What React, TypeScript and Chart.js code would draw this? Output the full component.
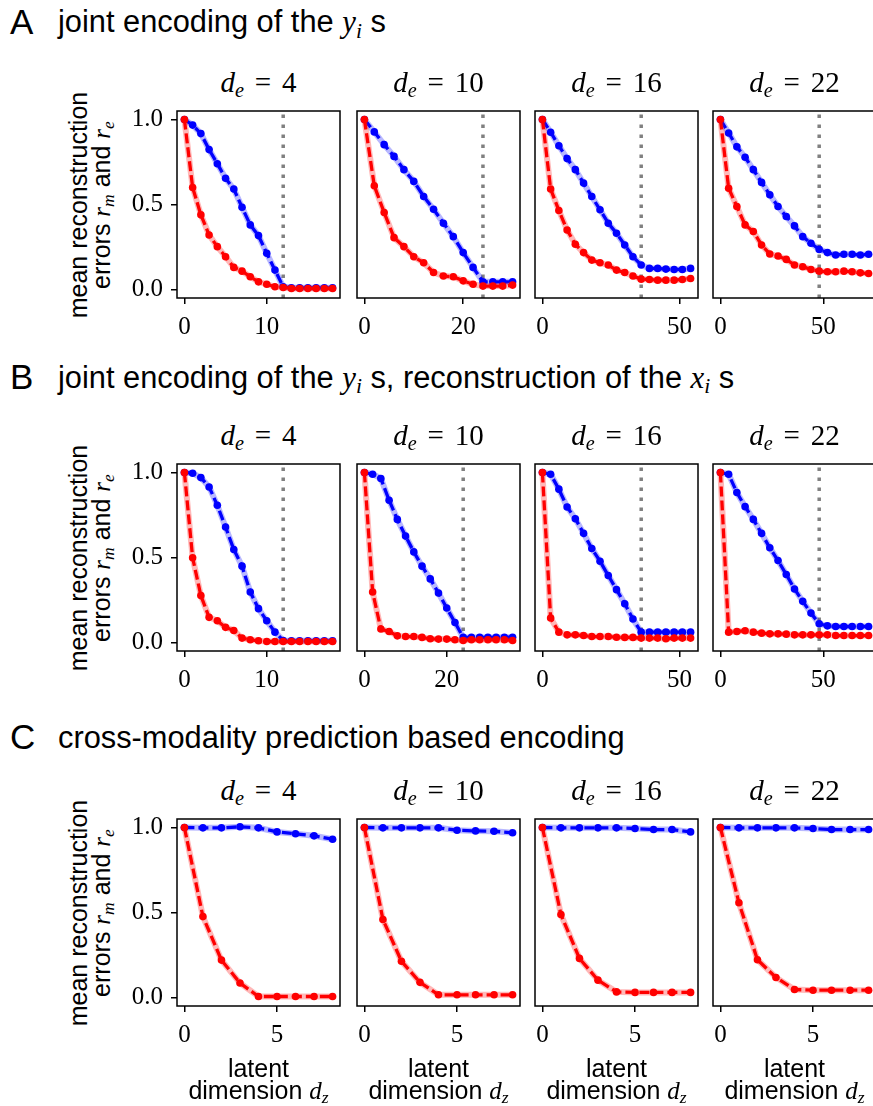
import React, { useEffect, useRef } from "react";
import { Chart, registerables } from "chart.js";

Chart.register(...registerables);

// ---------------- data ----------------
const deValues = ["4", "10", "16", "22"];
const vlineX = [12, 24, 36, 48];
const yTicks = [0, 0.5, 1.0];
const xTicksAB = [[0, 10], [0, 20], [0, 50], [0, 50]];
const xTicksC = [[0, 5], [0, 5], [0, 5], [0, 5]];

// Row A: joint encoding of the y_i s
const xA1 = [0, 1, 2, 3, 4, 5, 6, 7, 8, 9, 10, 11, 12, 13, 14, 15, 16, 17, 18];
const blueA1 = [1.0, 0.967, 0.917, 0.823, 0.74, 0.654, 0.591, 0.484, 0.38, 0.317, 0.213, 0.114, 0.016, 0.01, 0.01, 0.01, 0.01, 0.01, 0.01];
const redA1 = [1.0, 0.6, 0.439, 0.321, 0.252, 0.193, 0.13, 0.108, 0.075, 0.045, 0.031, 0.016, 0.012, 0.006, 0.006, 0.006, 0.006, 0.006, 0.006];

const xA2 = [0, 2, 4, 6, 8, 10, 12, 14, 16, 18, 20, 22, 24, 26, 28, 30];
const blueA2 = [1.0, 0.927, 0.852, 0.783, 0.705, 0.636, 0.547, 0.472, 0.39, 0.311, 0.217, 0.13, 0.045, 0.045, 0.045, 0.045];
const redA2 = [1.0, 0.61, 0.453, 0.305, 0.252, 0.193, 0.157, 0.1, 0.079, 0.075, 0.051, 0.031, 0.02, 0.02, 0.02, 0.026];

const xA3 = [0, 3, 6, 9, 12, 15, 18, 21, 24, 27, 30, 33, 36, 39, 42, 45, 48, 51, 54];
const blueA3 = [1.0, 0.925, 0.846, 0.77, 0.705, 0.626, 0.547, 0.469, 0.39, 0.331, 0.262, 0.193, 0.144, 0.124, 0.124, 0.12, 0.118, 0.118, 0.124];
const redA3 = [1.0, 0.591, 0.465, 0.35, 0.266, 0.217, 0.173, 0.157, 0.144, 0.114, 0.1, 0.079, 0.061, 0.059, 0.055, 0.055, 0.055, 0.059, 0.065];

const xA4 = [0, 4, 8, 12, 16, 20, 24, 28, 32, 36, 40, 44, 48, 52, 56, 60, 64, 68, 72];
const blueA4 = [1.0, 0.921, 0.839, 0.778, 0.705, 0.63, 0.557, 0.488, 0.429, 0.374, 0.311, 0.272, 0.236, 0.217, 0.203, 0.207, 0.207, 0.203, 0.207];
const redA4 = [1.0, 0.596, 0.488, 0.38, 0.341, 0.262, 0.209, 0.197, 0.177, 0.144, 0.134, 0.118, 0.108, 0.104, 0.104, 0.108, 0.104, 0.098, 0.094];

// Row B: joint encoding of the y_i s, reconstruction of the x_i s
const xB1 = [0, 1, 2, 3, 4, 5, 6, 7, 8, 9, 10, 11, 12, 13, 14, 15, 16, 17, 18];
const blueB1 = [1.0, 0.996, 0.97, 0.915, 0.807, 0.679, 0.547, 0.449, 0.297, 0.199, 0.128, 0.061, 0.012, 0.01, 0.01, 0.01, 0.01, 0.01, 0.01];
const redB1 = [1.0, 0.498, 0.276, 0.148, 0.128, 0.089, 0.071, 0.026, 0.016, 0.01, 0.006, 0.006, 0.006, 0.006, 0.006, 0.006, 0.006, 0.006, 0.006];

const xB2 = [0, 2, 4, 6, 8, 10, 12, 14, 16, 18, 20, 22, 24, 26, 28, 30, 32, 34, 36];
const blueB2 = [1.0, 0.99, 0.965, 0.837, 0.724, 0.626, 0.533, 0.449, 0.374, 0.291, 0.203, 0.118, 0.03, 0.03, 0.03, 0.03, 0.03, 0.031, 0.031];
const redB2 = [1.0, 0.297, 0.079, 0.065, 0.039, 0.035, 0.035, 0.03, 0.022, 0.02, 0.02, 0.016, 0.012, 0.016, 0.016, 0.016, 0.016, 0.016, 0.012];

const xB3 = [0, 3, 6, 9, 12, 15, 18, 21, 24, 27, 30, 33, 36, 39, 42, 45, 48, 51, 54];
const blueB3 = [1.0, 0.99, 0.902, 0.797, 0.728, 0.642, 0.553, 0.478, 0.394, 0.311, 0.228, 0.138, 0.061, 0.061, 0.061, 0.061, 0.061, 0.061, 0.061];
const redB3 = [1.0, 0.144, 0.061, 0.045, 0.045, 0.041, 0.035, 0.035, 0.035, 0.031, 0.03, 0.03, 0.026, 0.026, 0.026, 0.022, 0.026, 0.026, 0.026];

const xB4 = [0, 4, 8, 12, 16, 20, 24, 28, 32, 36, 40, 44, 48, 52, 56, 60, 64, 68, 72];
const blueB4 = [1.0, 0.99, 0.882, 0.799, 0.724, 0.642, 0.557, 0.482, 0.4, 0.315, 0.242, 0.173, 0.11, 0.098, 0.094, 0.094, 0.094, 0.094, 0.094];
const redB4 = [1.0, 0.061, 0.065, 0.069, 0.061, 0.055, 0.051, 0.051, 0.049, 0.045, 0.045, 0.045, 0.045, 0.045, 0.041, 0.041, 0.041, 0.041, 0.041];

// Row C: cross-modality prediction based encoding
const xC = [0, 1, 2, 3, 4, 5, 6, 7, 8];
const blueC1 = [1.0, 0.998, 0.998, 1.004, 0.998, 0.974, 0.963, 0.951, 0.931];
const redC1 = [1.0, 0.476, 0.22, 0.085, 0.006, 0.006, 0.006, 0.006, 0.006];
const blueC2 = [1.0, 0.998, 0.998, 0.998, 0.998, 0.984, 0.98, 0.978, 0.969];
const redC2 = [1.0, 0.459, 0.213, 0.089, 0.016, 0.016, 0.016, 0.016, 0.016];
const blueC3 = [1.0, 0.998, 0.998, 0.998, 0.998, 0.994, 0.988, 0.988, 0.974];
const redC3 = [1.0, 0.488, 0.23, 0.102, 0.033, 0.03, 0.03, 0.03, 0.03];
const blueC4 = [1.0, 0.998, 0.998, 0.998, 0.998, 0.994, 0.988, 0.988, 0.988];
const redC4 = [1.0, 0.557, 0.222, 0.118, 0.047, 0.043, 0.043, 0.043, 0.043];

// ---------------- layout / style ----------------
const SANS = '"Liberation Sans", Arial, Helvetica, sans-serif';
const SERIF = '"Liberation Serif", "Times New Roman", serif';
const COL_LEFT = [177, 357, 535, 713];
const ROW_TOP = [111, 464, 819];
const FRAME_W = 163;
const FRAME_H = 187;
const HEADER_BASE = [33.5, 389, 749];
const Y_MIN = -0.05;
const Y_MAX = 1.05;

type PanelCfg = {
  x: number[];
  blue: number[];
  red: number[];
  xTicks: number[];
  vline: number | null;
};

const rowsCfg: { letter: string; panels: PanelCfg[] }[] = [
  {
    letter: "A",
    panels: [
      { x: xA1, blue: blueA1, red: redA1, xTicks: xTicksAB[0], vline: vlineX[0] },
      { x: xA2, blue: blueA2, red: redA2, xTicks: xTicksAB[1], vline: vlineX[1] },
      { x: xA3, blue: blueA3, red: redA3, xTicks: xTicksAB[2], vline: vlineX[2] },
      { x: xA4, blue: blueA4, red: redA4, xTicks: xTicksAB[3], vline: vlineX[3] },
    ],
  },
  {
    letter: "B",
    panels: [
      { x: xB1, blue: blueB1, red: redB1, xTicks: xTicksAB[0], vline: vlineX[0] },
      { x: xB2, blue: blueB2, red: redB2, xTicks: xTicksAB[1], vline: vlineX[1] },
      { x: xB3, blue: blueB3, red: redB3, xTicks: xTicksAB[2], vline: vlineX[2] },
      { x: xB4, blue: blueB4, red: redB4, xTicks: xTicksAB[3], vline: vlineX[3] },
    ],
  },
  {
    letter: "C",
    panels: [
      { x: xC, blue: blueC1, red: redC1, xTicks: xTicksC[0], vline: null },
      { x: xC, blue: blueC2, red: redC2, xTicks: xTicksC[1], vline: null },
      { x: xC, blue: blueC3, red: redC3, xTicks: xTicksC[2], vline: null },
      { x: xC, blue: blueC4, red: redC4, xTicks: xTicksC[3], vline: null },
    ],
  },
];

const framePlugin = {
  id: "frameBox",
  afterDraw(chart: any) {
    const { ctx, chartArea } = chart;
    const { left, top, right, bottom } = chartArea;
    ctx.save();
    ctx.strokeStyle = "#000";
    ctx.lineWidth = 1.5;
    ctx.strokeRect(left, top, right - left, bottom - top);
    ctx.restore();
  },
};

const PAD_T = 12;
const PAD_R = 20;
const PAD_B = 52;

function Panel({ cfg, col, row }: { cfg: PanelCfg; col: number; row: number }) {
  const ref = useRef<HTMLCanvasElement | null>(null);
  const padL = col === 0 ? 80 : 20;
  const cw = padL + FRAME_W + PAD_R;
  const ch = PAD_T + FRAME_H + PAD_B;
  const left = COL_LEFT[col] - padL;
  const top = ROW_TOP[row] - PAD_T;

  useEffect(() => {
    if (!ref.current) return;
    const xMin0 = Math.min(...cfg.x);
    const xMax0 = Math.max(...cfg.x);
    const margin = (xMax0 - xMin0) * 0.05;
    const toPts = (ys: number[]) => cfg.x.map((xv, i) => ({ x: xv, y: ys[i] }));
    const datasets: any[] = [];
    if (cfg.vline !== null) {
      datasets.push({
        data: [
          { x: cfg.vline, y: Y_MIN },
          { x: cfg.vline, y: Y_MAX },
        ],
        borderColor: "#808080",
        borderWidth: 3.5,
        borderDash: [3.5, 6.5],
        borderCapStyle: "butt",
        pointRadius: 0,
        order: 6,
      });
    }
    datasets.push(
      {
        data: toPts(cfg.blue),
        borderColor: "rgba(0,0,255,0.28)",
        borderWidth: 6,
        pointRadius: 0,
        order: 5,
      },
      {
        data: toPts(cfg.blue),
        borderColor: "#0000ff",
        borderWidth: 3.3,
        borderDash: [10, 4],
        pointRadius: 3.8,
        pointBackgroundColor: "#0000ff",
        pointBorderWidth: 0,
        order: 4,
      },
      {
        data: toPts(cfg.red),
        borderColor: "rgba(255,0,0,0.28)",
        borderWidth: 6,
        pointRadius: 0,
        order: 3,
      },
      {
        data: toPts(cfg.red),
        borderColor: "#ff0000",
        borderWidth: 3.3,
        borderDash: [10, 4],
        pointRadius: 3.8,
        pointBackgroundColor: "#ff0000",
        pointBorderWidth: 0,
        order: 2,
      }
    );

    const tickFont = { family: SERIF, size: 25 };
    const chart = new Chart(ref.current, {
      type: "line",
      data: { datasets },
      plugins: [framePlugin],
      options: {
        animation: false,
        responsive: false,
        maintainAspectRatio: false,
        devicePixelRatio: 1,
        events: [],
        layout: { padding: { left: 0, top: PAD_T, right: PAD_R, bottom: 0 } },
        plugins: {
          legend: { display: false },
          tooltip: { enabled: false },
          title: { display: false },
        },
        scales: {
          x: {
            type: "linear",
            min: xMin0 - margin,
            max: xMax0 + margin,
            bounds: "data",
            afterBuildTicks: (s: any) => {
              s.ticks = cfg.xTicks.map((v) => ({ value: v }));
            },
            afterFit: (s: any) => {
              s.height = PAD_B;
              s.paddingLeft = 0;
              s.paddingRight = 0;
              s.paddingTop = 0;
              s.paddingBottom = 0;
            },
            ticks: {
              autoSkip: false,
              maxRotation: 0,
              padding: 8,
              color: "#000",
              font: tickFont,
              callback: (v: any) => String(v),
            },
            grid: {
              display: true,
              drawOnChartArea: false,
              drawTicks: true,
              tickLength: 6,
              color: "#000",
              lineWidth: 1.5,
            },
            border: { display: false },
          },
          y: {
            type: "linear",
            min: Y_MIN,
            max: Y_MAX,
            bounds: "data",
            afterBuildTicks: (s: any) => {
              s.ticks = yTicks.map((v) => ({ value: v }));
            },
            afterFit: (s: any) => {
              s.width = padL;
              s.paddingLeft = 0;
              s.paddingRight = 0;
              s.paddingTop = 0;
              s.paddingBottom = 0;
            },
            ticks: {
              display: col === 0,
              autoSkip: false,
              padding: 8,
              color: "#000",
              font: tickFont,
              callback: (v: any) => Number(v).toFixed(1),
            },
            grid: {
              display: col === 0,
              drawOnChartArea: false,
              drawTicks: true,
              tickLength: 6,
              color: "#000",
              lineWidth: 1.5,
            },
            border: { display: false },
          },
        },
      } as any,
    });
    return () => chart.destroy();
  }, []);

  return (
    <canvas
      ref={ref}
      width={cw}
      height={ch}
      style={{ position: "absolute", left, top, width: cw, height: ch }}
    />
  );
}

function MathVar({ v, s }: { v: string; s: string }) {
  return (
    <span style={{ fontFamily: SERIF, fontStyle: "italic" }}>
      {v}
      <span style={{ fontSize: "0.7em", position: "relative", top: "0.25em" }}>{s}</span>
    </span>
  );
}

function Header({ row }: { row: number }) {
  const base = HEADER_BASE[row];
  const letter = rowsCfg[row].letter;
  let content: React.ReactNode;
  if (row === 0) {
    content = (
      <>
        joint encoding of the <MathVar v="y" s="i" /> s
      </>
    );
  } else if (row === 1) {
    content = (
      <>
        joint encoding of the <MathVar v="y" s="i" /> s, reconstruction of the <MathVar v="x" s="i" /> s
      </>
    );
  } else {
    content = <>cross-modality prediction based encoding</>;
  }
  const fs = 30.8;
  return (
    <>
      <div
        style={{
          position: "absolute",
          left: 10,
          top: base - 0.8465 * 35,
          fontFamily: SANS,
          fontSize: 35,
          lineHeight: "35px",
          color: "#000",
        }}
      >
        {letter}
      </div>
      <div
        style={{
          position: "absolute",
          left: 58,
          top: base - 0.8465 * fs,
          fontFamily: SANS,
          fontSize: fs,
          lineHeight: fs + "px",
          whiteSpace: "nowrap",
          color: "#000",
        }}
      >
        {content}
      </div>
    </>
  );
}

function PanelTitle({ row, col }: { row: number; col: number }) {
  const cx = COL_LEFT[col] + FRAME_W / 2;
  const base = ROW_TOP[row] - 19;
  const fs = 29;
  return (
    <div
      style={{
        position: "absolute",
        left: cx - 100,
        width: 200,
        top: base - 0.8375 * fs,
        fontFamily: SERIF,
        fontSize: fs,
        lineHeight: fs + "px",
        textAlign: "center",
        whiteSpace: "nowrap",
        wordSpacing: "0.12em",
        color: "#000",
      }}
    >
      <MathVar v="d" s="e" /> = {deValues[col]}
    </div>
  );
}

function YLabel({ row }: { row: number }) {
  const cy = ROW_TOP[row] + FRAME_H / 2;
  const cx = 90;
  const w = 320;
  const h = 46;
  return (
    <div
      style={{
        position: "absolute",
        left: cx - w / 2,
        top: cy - h / 2,
        width: w,
        height: h,
        transform: "rotate(-90deg)",
        fontFamily: SANS,
        fontSize: 25,
        lineHeight: "23px",
        textAlign: "center",
        whiteSpace: "nowrap",
        color: "#000",
      }}
    >
      <div>mean reconstruction</div>
      <div>
        errors <MathVar v="r" s="m" /> and <MathVar v="r" s="e" />
      </div>
    </div>
  );
}

function XLabel({ col }: { col: number }) {
  const cx = COL_LEFT[col] + FRAME_W / 2;
  return (
    <div
      style={{
        position: "absolute",
        left: cx - 110,
        width: 220,
        top: 1057,
        fontFamily: SANS,
        fontSize: 25,
        lineHeight: "22px",
        textAlign: "center",
        whiteSpace: "nowrap",
        color: "#000",
      }}
    >
      <div>latent</div>
      <div>
        dimension <MathVar v="d" s="z" />
      </div>
    </div>
  );
}

export default function App() {
  return (
    <div
      style={{
        position: "absolute",
        left: 0,
        top: 0,
        width: 873,
        height: 1106,
        overflow: "hidden",
        background: "#fff",
      }}
    >
      {rowsCfg.map((r, ri) => (
        <React.Fragment key={r.letter}>
          <Header row={ri} />
          <YLabel row={ri} />
          {r.panels.map((p, ci) => (
            <React.Fragment key={ci}>
              <PanelTitle row={ri} col={ci} />
              <Panel cfg={p} col={ci} row={ri} />
            </React.Fragment>
          ))}
        </React.Fragment>
      ))}
      {[0, 1, 2, 3].map((c) => (
        <XLabel key={c} col={c} />
      ))}
    </div>
  );
}
